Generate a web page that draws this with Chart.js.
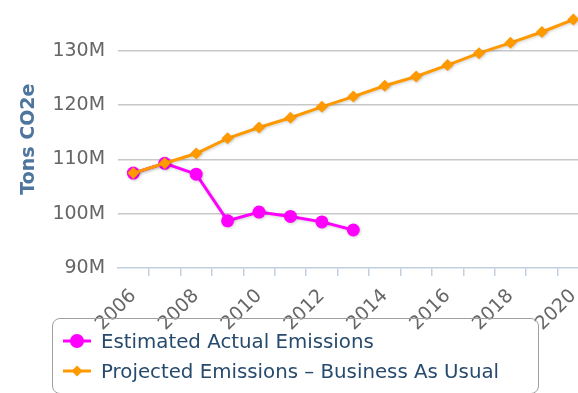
<!DOCTYPE html>
<html>
<head>
<meta charset="utf-8">
<title>Emissions</title>
<script src="https://cdn.jsdelivr.net/npm/chart.js@4.4.0/dist/chart.umd.min.js"></script>
<style>
  html, body { margin: 0; padding: 0; background: #fff; overflow: hidden; width: 578px; height: 393px; position: relative; }
  #chart-wrap { position: absolute; left: 0; top: -5px; width: 600px; height: 343px; }
  #legend {
    position: absolute; left: 52px; top: 318px; width: 487px; height: 76px;
    box-sizing: border-box; border: 1.6px solid #a0a0a0; border-radius: 8px;
    font-family: 'DejaVu Sans', sans-serif; font-size: 19.8px; color: #274b6d;
  }
  .legend-item { position: absolute; left: 10px; height: 30px; display: flex; align-items: center; white-space: nowrap; }
  .legend-item canvas { margin-right: 10px; }
</style>
</head>
<body>
<div id="chart-wrap"><canvas id="emissionsChart"></canvas></div>
<div id="legend"></div>
<script>
const years = ['2006', '2007', '2008', '2009', '2010', '2011', '2012', '2013',
               '2014', '2015', '2016', '2017', '2018', '2019', '2020'];
const labeledYears = ['2006', '2008', '2010', '2012', '2014', '2016', '2018', '2020'];

// millions of tons CO2e
const actualEmissions = [107.5, 109.3, 107.3, 98.7, 100.3, 99.5, 98.5, 97.0];
const projectedEmissions = [107.5, 109.3, 111.1, 113.9, 115.9, 117.7, 119.7, 121.6,
                            123.6, 125.3, 127.4, 129.6, 131.5, 133.5, 135.8];

const yTickValues = [90, 100, 110, 120, 130];

const FONT = "'DejaVu Sans', sans-serif";

// soft drop shadow under each series
const lineShadow = {
    id: 'lineShadow',
    beforeDatasetDraw(chart) {
        const c = chart.ctx;
        c.save();
        c.shadowColor = 'rgba(0, 0, 0, 0.18)';
        c.shadowBlur = 3;
        c.shadowOffsetX = 1;
        c.shadowOffsetY = 1;
    },
    afterDatasetDraw(chart) {
        chart.ctx.restore();
    },
};

const ctx = document.getElementById('emissionsChart').getContext('2d');
const chart = new Chart(ctx, {
    type: 'line',
    data: {
        labels: years,
        datasets: [{
            label: 'Estimated Actual Emissions',
            data: actualEmissions,
            borderColor: '#ff00ff',
            backgroundColor: '#ff00ff',
            pointStyle: 'circle',
            pointRadius: 6.5,
            pointBorderWidth: 0,
            borderWidth: 3,
            order: 1,
        }, {
            label: 'Projected Emissions – Business As Usual',
            data: projectedEmissions,
            borderColor: '#ff9900',
            backgroundColor: '#ff9900',
            pointStyle: 'rectRot',
            pointRadius: 6,
            pointBorderWidth: 0,
            borderWidth: 3,
            order: 0,
        }],
    },
    options: {
        responsive: true,
        maintainAspectRatio: false,
        animation: false,
        layout: { padding: { left: 0, right: 11, top: 15.3, bottom: 0 } },
        plugins: {
            legend: { display: false },
            tooltip: { enabled: false },
        },
        scales: {
            x: {
                offset: true,
                grid: {
                    offset: true,
                    drawOnChartArea: false,
                    tickLength: 8,
                    lineWidth: 1.5,
                    color: c => c.index === 0 ? 'transparent' : '#c0d0e0',
                },
                border: { color: '#c0d0e0', width: 1.5 },
                ticks: {
                    autoSkip: false,
                    minRotation: 45,
                    maxRotation: 45,
                    padding: 9,
                    color: '#666',
                    font: { family: FONT, size: 19 },
                    callback: (v, i) => labeledYears.includes(years[i]) ? years[i] : '',
                },
                afterFit(scale) { scale.height = 70; },
            },
            y: {
                min: 90,
                max: 137.5,
                afterBuildTicks(scale) {
                    scale.ticks = yTickValues.map(v => ({ value: v }));
                },
                grid: {
                    tickLength: 12.5,
                    tickColor: 'transparent',
                    lineWidth: 1.5,
                    color: c => c.tick && c.tick.value === 90 ? 'transparent' : '#c8c8c8',
                },
                border: { display: false },
                ticks: {
                    padding: 0,
                    color: '#666',
                    font: { family: FONT, size: 19 },
                    callback: v => v + 'M',
                },
                title: {
                    display: true,
                    text: 'Tons CO2e',
                    color: '#4d759e',
                    font: { family: FONT, size: 19, weight: 'bold' },
                    padding: { top: 17.6, bottom: 0 },
                },
                afterFit(scale) { scale.width = 117.6; },
            },
        },
    },
    plugins: [lineShadow],
});

// Legend box: line + marker symbol, then the series name
function renderLegend() {
    const legend = document.getElementById('legend');
    chart.data.datasets.forEach((ds, i) => {
        const item = document.createElement('div');
        item.className = 'legend-item';
        item.style.top = (7 + i * 30) + 'px';

        const sym = document.createElement('canvas');
        sym.width = 28;
        sym.height = 16;
        const s = sym.getContext('2d');
        s.strokeStyle = ds.borderColor;
        s.fillStyle = ds.backgroundColor;
        s.lineWidth = 3;
        s.beginPath();
        s.moveTo(0, 8);
        s.lineTo(28, 8);
        s.stroke();
        s.beginPath();
        if (ds.pointStyle === 'circle') {
            s.arc(14, 8, 7, 0, Math.PI * 2);
        } else {
            s.moveTo(14, 2.5);
            s.lineTo(19.5, 8);
            s.lineTo(14, 13.5);
            s.lineTo(8.5, 8);
            s.closePath();
        }
        s.fill();

        const text = document.createElement('span');
        text.textContent = ds.label;

        item.appendChild(sym);
        item.appendChild(text);
        legend.appendChild(item);
    });
}

renderLegend();
</script>
</body>
</html>
